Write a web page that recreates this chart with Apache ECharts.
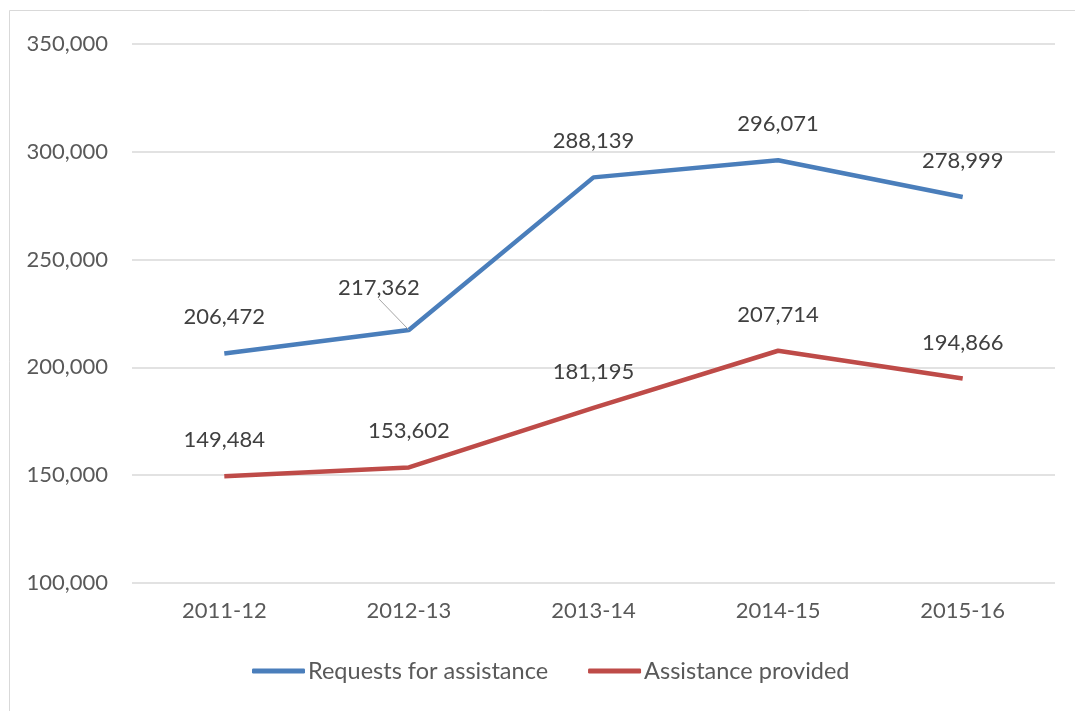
<!DOCTYPE html>
<html>
<head>
<meta charset="utf-8">
<script src="https://cdn.jsdelivr.net/npm/echarts@6/dist/echarts.min.js"></script>
<style>
html, body { margin: 0; padding: 0; background: #fff; }
#main { width: 1075px; height: 711px; }
</style>
</head>
<body>
<div id="main"></div>
<script>
// categories
var years = ['2011-12', '2012-13', '2013-14', '2014-15', '2015-16'];
// series values
var requests = [206472, 217362, 288139, 296071, 278999];
var provided = [149484, 153602, 181195, 207714, 194866];
// y axis range
var yMin = 100000;
var yMax = 350000;
var yStep = 50000;

var fontFam = 'Lato, "Open Sans", sans-serif';

function fmt(v) {
    return v.toLocaleString('en-US');
}

// second point of requests gets a leader line (label is moved by labelLayout)
var reqData = requests.map(function (v, i) {
    if (i === 1) {
        return {
            value: v,
            labelLine: { show: true, lineStyle: { color: '#a6a6a6', width: 1 } }
        };
    }
    return v;
});

function dataLabel() {
    return {
        show: true,
        position: 'top',
        distance: 25,
        color: '#404040',
        fontSize: 22,
        fontFamily: fontFam,
        formatter: function (p) { return fmt(p.value); }
    };
}

var myChart = echarts.init(document.getElementById('main'));
var option = {
    backgroundColor: '#fff',
    animation: false,
    graphic: [
        {
            type: 'rect',
            shape: { x: 9.5, y: 10.5, width: 1100, height: 750 },
            style: { fill: 'none', stroke: '#d9d9d9', lineWidth: 1 },
            silent: true
        }
    ],
    grid: {
        left: 132,
        right: 20,
        top: 44,
        bottom: 128
    },
    legend: {
        bottom: 23,
        left: 247,
        itemWidth: 53,
        itemHeight: 5,
        itemGap: 40,
        icon: 'roundRect',
        textStyle: { color: '#595959', fontSize: 23.5, fontFamily: fontFam, padding: [0, 0, 0, -2] },
        data: ['Requests for assistance', 'Assistance provided']
    },
    xAxis: {
        type: 'category',
        data: years,
        axisLine: { show: false },
        axisTick: { show: false },
        axisLabel: { color: '#595959', fontSize: 22, fontFamily: fontFam, margin: 17 }
    },
    yAxis: {
        type: 'value',
        min: yMin,
        max: yMax,
        interval: yStep,
        axisLine: { show: false },
        axisTick: { show: false },
        splitLine: { lineStyle: { color: '#d9d9d9', width: 1.5 } },
        axisLabel: {
            color: '#595959',
            fontSize: 22,
            fontFamily: fontFam,
            margin: 24,
            formatter: function (v) { return fmt(v); }
        }
    },
    series: [
        {
            name: 'Requests for assistance',
            type: 'line',
            data: reqData,
            symbol: 'circle',
            symbolSize: 0.1,
            showSymbol: true,
            lineStyle: { color: '#4a7ebb', width: 4.5 },
            itemStyle: { color: '#4a7ebb' },
            label: dataLabel(),
            labelLayout: function (p) {
                if (p.dataIndex === 1) {
                    return { dx: -30, dy: -6 };
                }
                return {};
            }
        },
        {
            name: 'Assistance provided',
            type: 'line',
            data: provided,
            symbol: 'circle',
            symbolSize: 0.1,
            showSymbol: true,
            lineStyle: { color: '#be4b48', width: 4.5 },
            itemStyle: { color: '#be4b48' },
            label: dataLabel()
        }
    ]
};
myChart.setOption(option);
</script>
</body>
</html>
